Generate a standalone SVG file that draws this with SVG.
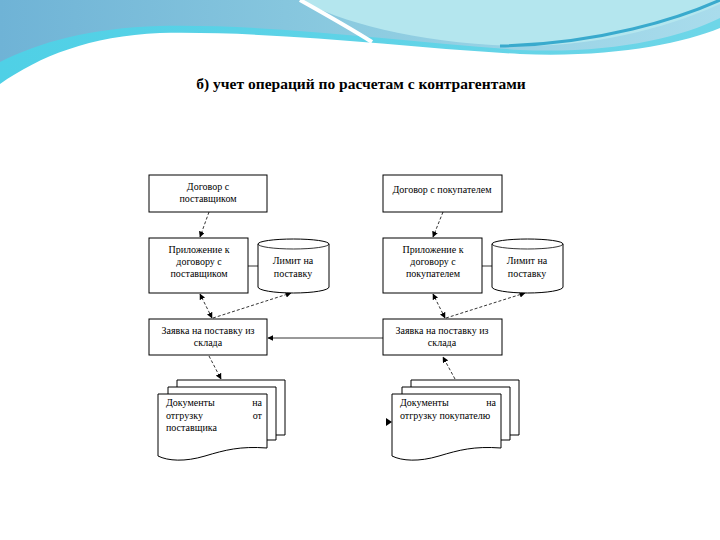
<svg xmlns="http://www.w3.org/2000/svg" width="720" height="540" viewBox="0 0 720 540">
<defs>
<linearGradient id="sky" x1="0" y1="0" x2="1" y2="0">
<stop offset="0" stop-color="#6fb3d6"/>
<stop offset="0.5" stop-color="#8ccbe0"/>
<stop offset="1" stop-color="#a9dcec"/>
</linearGradient>
<linearGradient id="band" x1="0" y1="0" x2="1" y2="0">
<stop offset="0" stop-color="#4fd0e6"/>
<stop offset="1" stop-color="#6ed6e8"/>
</linearGradient>
<marker id="ah" viewBox="0 0 10 10" refX="9" refY="5" markerWidth="6" markerHeight="6" markerUnits="userSpaceOnUse" orient="auto-start-reverse">
<path d="M0,0 L10,5 L0,10 Z" fill="#000"/>
</marker>
<style>
.box{fill:#fff;stroke:#000;stroke-width:1}
.t{font-family:'Liberation Serif','DejaVu Serif','Times New Roman',serif;font-size:10px;fill:#000}
.c{text-anchor:middle}
.title{font-family:'Liberation Serif','DejaVu Serif','Times New Roman',serif;font-size:15.5px;font-weight:bold;fill:#000;text-anchor:middle}
.dash{fill:none;stroke:#000;stroke-width:0.8;stroke-dasharray:3,2}
.solid{fill:none;stroke:#000;stroke-width:0.8}
.page{fill:#fff;stroke:#000;stroke-width:1}
</style>
</defs>
<rect width="720" height="540" fill="#fff"/>
<g id="background">
<rect x="0" y="0" width="720" height="90" fill="url(#sky)"/>
<path d="M300,0 C340,22 420,44 520,46 C610,46 680,22 720,4 L720,0 Z" fill="#b4e6ee"/>
<path d="M0,62 C40,42 90,28 160,26 C280,24 400,42 520,50 C610,54 680,38 720,18 L720,40 C680,50 600,60 520,58 C400,52 280,34 160,34 C90,36 40,58 0,90 Z" fill="url(#band)"/>
<path d="M0,84 C40,56 90,36 160,33 C280,31 400,47 520,54 C610,58 680,44 720,28 L720,540 L0,540 Z" fill="#fff"/>
<path d="M300,0 C325,14 350,28 372,42" stroke="#fff" stroke-width="4" fill="none"/>
<path d="M500,46 C600,44 680,18 720,0" stroke="#39aacd" stroke-width="3" fill="none"/>
</g>
<text class="title" x="361" y="89">б) учет операций по расчетам с контрагентами</text>

<g id="connectors">
<line class="dash" x1="209" y1="212" x2="200" y2="237" marker-end="url(#ah)"/>
<line class="dash" x1="212" y1="318" x2="200" y2="294" marker-start="url(#ah)" marker-end="url(#ah)"/>
<line class="dash" x1="213" y1="318" x2="291" y2="293" marker-end="url(#ah)"/>
<line class="dash" x1="209" y1="356" x2="221" y2="379" marker-end="url(#ah)"/>
<line class="dash" x1="443" y1="212" x2="433" y2="237" marker-end="url(#ah)"/>
<line class="dash" x1="445" y1="318" x2="433" y2="294" marker-start="url(#ah)" marker-end="url(#ah)"/>
<line class="dash" x1="446" y1="318" x2="525" y2="293" marker-end="url(#ah)"/>
<line class="dash" x1="455" y1="379" x2="443" y2="357" marker-end="url(#ah)"/>
<line class="solid" x1="383" y1="338" x2="268" y2="338" marker-end="url(#ah)"/>
<line class="solid" x1="248" y1="266" x2="258" y2="266"/>
<line class="solid" x1="482" y1="266" x2="492" y2="266"/>
<path d="M386,418 L392,422 L386,426 Z" fill="#000"/>
</g>

<g id="dogovor-postavshchik">
<rect class="box" x="149" y="175" width="118" height="37"/>
<text class="t c" x="208" y="190">Договор с</text>
<text class="t c" x="208" y="202">поставщиком</text>
</g>
<g id="dogovor-pokupatel">
<rect class="box" x="383" y="175" width="119" height="37"/>
<text class="t c" x="442" y="193">Договор с покупателем</text>
</g>
<g id="prilozhenie-postavshchik">
<rect class="box" x="149" y="238" width="99" height="55"/>
<text class="t c" x="199" y="253">Приложение к</text>
<text class="t c" x="199" y="265">договору с</text>
<text class="t c" x="199" y="277">поставщиком</text>
</g>
<g id="limit-left">
<path class="box" d="M258,244 A35.5,5 0 0 1 329,244 V287 A35.5,6 0 0 1 258,287 Z"/>
<path class="solid" d="M258,244 A35.5,5 0 0 0 329,244"/>
<text class="t c" x="293" y="264">Лимит на</text>
<text class="t c" x="293" y="277">поставку</text>
</g>
<g id="prilozhenie-pokupatel">
<rect class="box" x="383" y="238" width="99" height="55"/>
<text class="t c" x="433" y="253">Приложение к</text>
<text class="t c" x="433" y="265">договору с</text>
<text class="t c" x="433" y="277">покупателем</text>
</g>
<g id="limit-right">
<path class="box" d="M492,244 A35.5,5 0 0 1 563,244 V287 A35.5,6 0 0 1 492,287 Z"/>
<path class="solid" d="M492,244 A35.5,5 0 0 0 563,244"/>
<text class="t c" x="527" y="264">Лимит на</text>
<text class="t c" x="527" y="277">поставку</text>
</g>
<g id="zayavka-left">
<rect class="box" x="149" y="319" width="118" height="36"/>
<text class="t c" x="208" y="334">Заявка на поставку из</text>
<text class="t c" x="208" y="346">склада</text>
</g>
<g id="zayavka-right">
<rect class="box" x="383" y="319" width="119" height="36"/>
<text class="t c" x="442" y="334">Заявка на поставку из</text>
<text class="t c" x="442" y="346">склада</text>
</g>
<g id="docs-postavshchik">
<path class="page" d="M177,387 V380 H285 V435 H276"/>
<path class="page" d="M168,394 V387 H276 V440 H267"/>
<path class="page" d="M158,394 H267 V448 C240,446 225,450 205,456 C185,462 168,461 158,456 Z"/>
<text class="t" x="166" y="406">Документы</text>
<text class="t" x="262" y="406" text-anchor="end">на</text>
<text class="t" x="166" y="419">отгрузку</text>
<text class="t" x="262" y="419" text-anchor="end">от</text>
<text class="t" x="166" y="431">поставщика</text>
</g>
<g id="docs-pokupatel">
<path class="page" d="M411,387 V380 H519 V435 H510"/>
<path class="page" d="M402,394 V387 H510 V440 H501"/>
<path class="page" d="M392,394 H501 V448 C474,446 459,450 439,456 C419,462 402,461 392,456 Z"/>
<text class="t" x="400" y="406">Документы</text>
<text class="t" x="496" y="406" text-anchor="end">на</text>
<text class="t" x="400" y="419">отгрузку покупателю</text>
</g>
</svg>
